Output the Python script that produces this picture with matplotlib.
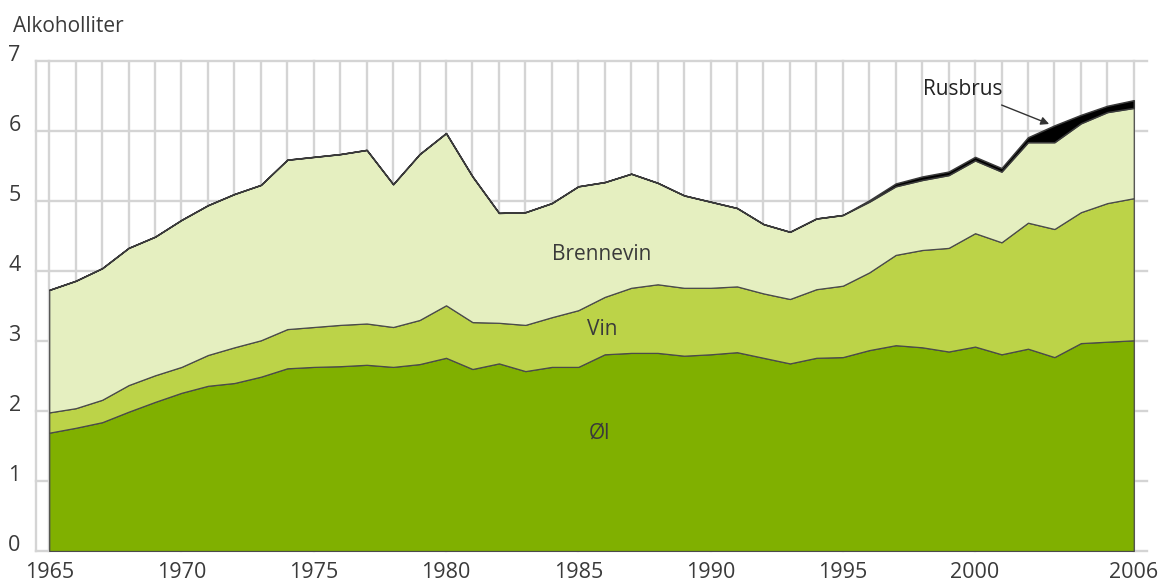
import numpy as np
import matplotlib
matplotlib.use("Agg")
import matplotlib.pyplot as plt

# alcohol consumption per inhabitant, litres of pure alcohol, by beverage
years = list(range(1965, 2007))

ol = [1.69, 1.76, 1.84, 1.99, 2.13, 2.26, 2.36, 2.40, 2.49, 2.61,
      2.63, 2.64, 2.66, 2.63, 2.67, 2.76, 2.60, 2.68, 2.57, 2.63,
      2.63, 2.81, 2.83, 2.83, 2.79, 2.81, 2.84, 2.76, 2.68, 2.76,
      2.77, 2.87, 2.94, 2.91, 2.85, 2.92, 2.81, 2.89, 2.77, 2.97,
      2.99, 3.01]

vin = [0.29, 0.28, 0.32, 0.38, 0.38, 0.37, 0.44, 0.51, 0.52, 0.56,
       0.57, 0.59, 0.59, 0.57, 0.63, 0.75, 0.67, 0.58, 0.66, 0.71,
       0.81, 0.82, 0.93, 0.98, 0.97, 0.95, 0.94, 0.92, 0.92, 0.98,
       1.02, 1.11, 1.29, 1.39, 1.48, 1.62, 1.60, 1.80, 1.83, 1.87,
       1.98, 2.03]

brennevin = [1.75, 1.82, 1.88, 1.96, 1.98, 2.10, 2.14, 2.19, 2.22, 2.42,
             2.43, 2.44, 2.48, 2.04, 2.37, 2.46, 2.08, 1.57, 1.61, 1.63,
             1.77, 1.64, 1.63, 1.45, 1.32, 1.23, 1.12, 0.99, 0.96, 1.01,
             1.01, 1.01, 0.98, 1.00, 1.04, 1.04, 1.01, 1.15, 1.24, 1.27,
             1.30, 1.29]

rusbrus = [0, 0, 0, 0, 0, 0, 0, 0, 0, 0,
           0, 0, 0, 0, 0, 0, 0, 0, 0, 0,
           0, 0, 0, 0, 0, 0, 0, 0, 0, 0,
           0, 0.02, 0.04, 0.05, 0.05, 0.05, 0.05, 0.07, 0.24, 0.12,
           0.09, 0.11]

xtick_years = [1965, 1970, 1975, 1980, 1985, 1990, 1995, 2000, 2006]

plt.rcParams['font.family'] = ['Open Sans', 'DejaVu Sans']
text_col = '#3a3a3a'
grid_col = '#d4d4d4'

fig = plt.figure(figsize=(11.62, 5.83), dpi=100)
ax = fig.add_axes([36/1162, 1 - 551/583, (1147-36)/1162, (551-61)/583])

layers = ax.stackplot(years, ol, vin, brennevin, rusbrus,
                      colors=['#80b000', '#bcd348', '#e5efc0', '#000000'],
                      zorder=2)
for poly in layers[:3]:
    poly.set_edgecolor('#4a4a4a')
    poly.set_linewidth(0.9)
layers[3].set_edgecolor('#3a3a3a')
layers[3].set_linewidth(1.1)

ax.set_xlim(1964.5, 2006.5)
ax.set_ylim(0, 7)

ax.set_xticks(xtick_years)
ax.set_xticks(years, minor=True)
ax.set_yticks(range(0, 8))
ax.grid(which='both', axis='x', color=grid_col, linewidth=1.7, zorder=0)
ax.grid(which='major', axis='y', color=grid_col, linewidth=1.7, zorder=0)
ax.set_axisbelow(True)
for ln in ax.get_xgridlines() + ax.get_ygridlines():
    ln.set_clip_on(False)
ax.axvline(1964.5, color=grid_col, linewidth=1.7, zorder=0, clip_on=False)

for s in ax.spines.values():
    s.set_visible(False)
ax.tick_params(which='both', length=0)
ax.tick_params(axis='x', pad=8, labelsize=15.5, labelcolor=text_col)
ax.tick_params(axis='y', pad=11, labelsize=15.5, labelcolor=text_col)
for lab in ax.get_yticklabels():
    lab.set_verticalalignment('baseline')

fig.text(13/1162, 1 - 32/583, 'Alkoholliter', fontsize=15, color=text_col,
         va='baseline', ha='left')

ax.text(1985.9, 4.24, 'Brennevin', fontsize=15, color=text_col, ha='center', va='center', zorder=5)
ax.text(1985.9, 3.16, 'Vin', fontsize=15, color=text_col, ha='center', va='center', zorder=5)
ax.text(1985.8, 1.69, 'Øl', fontsize=15, color=text_col, ha='center', va='center', zorder=5)

ax.annotate('Rusbrus', xy=(2002.8, 6.1), xytext=(1999.55, 6.59),
            fontsize=15, color='#222222', ha='center', va='center',
            arrowprops=dict(arrowstyle='-|>', color='#333333', lw=1,
                            mutation_scale=12, shrinkA=4, shrinkB=0),
            zorder=5)

fig.savefig('out.png', dpi=100)
